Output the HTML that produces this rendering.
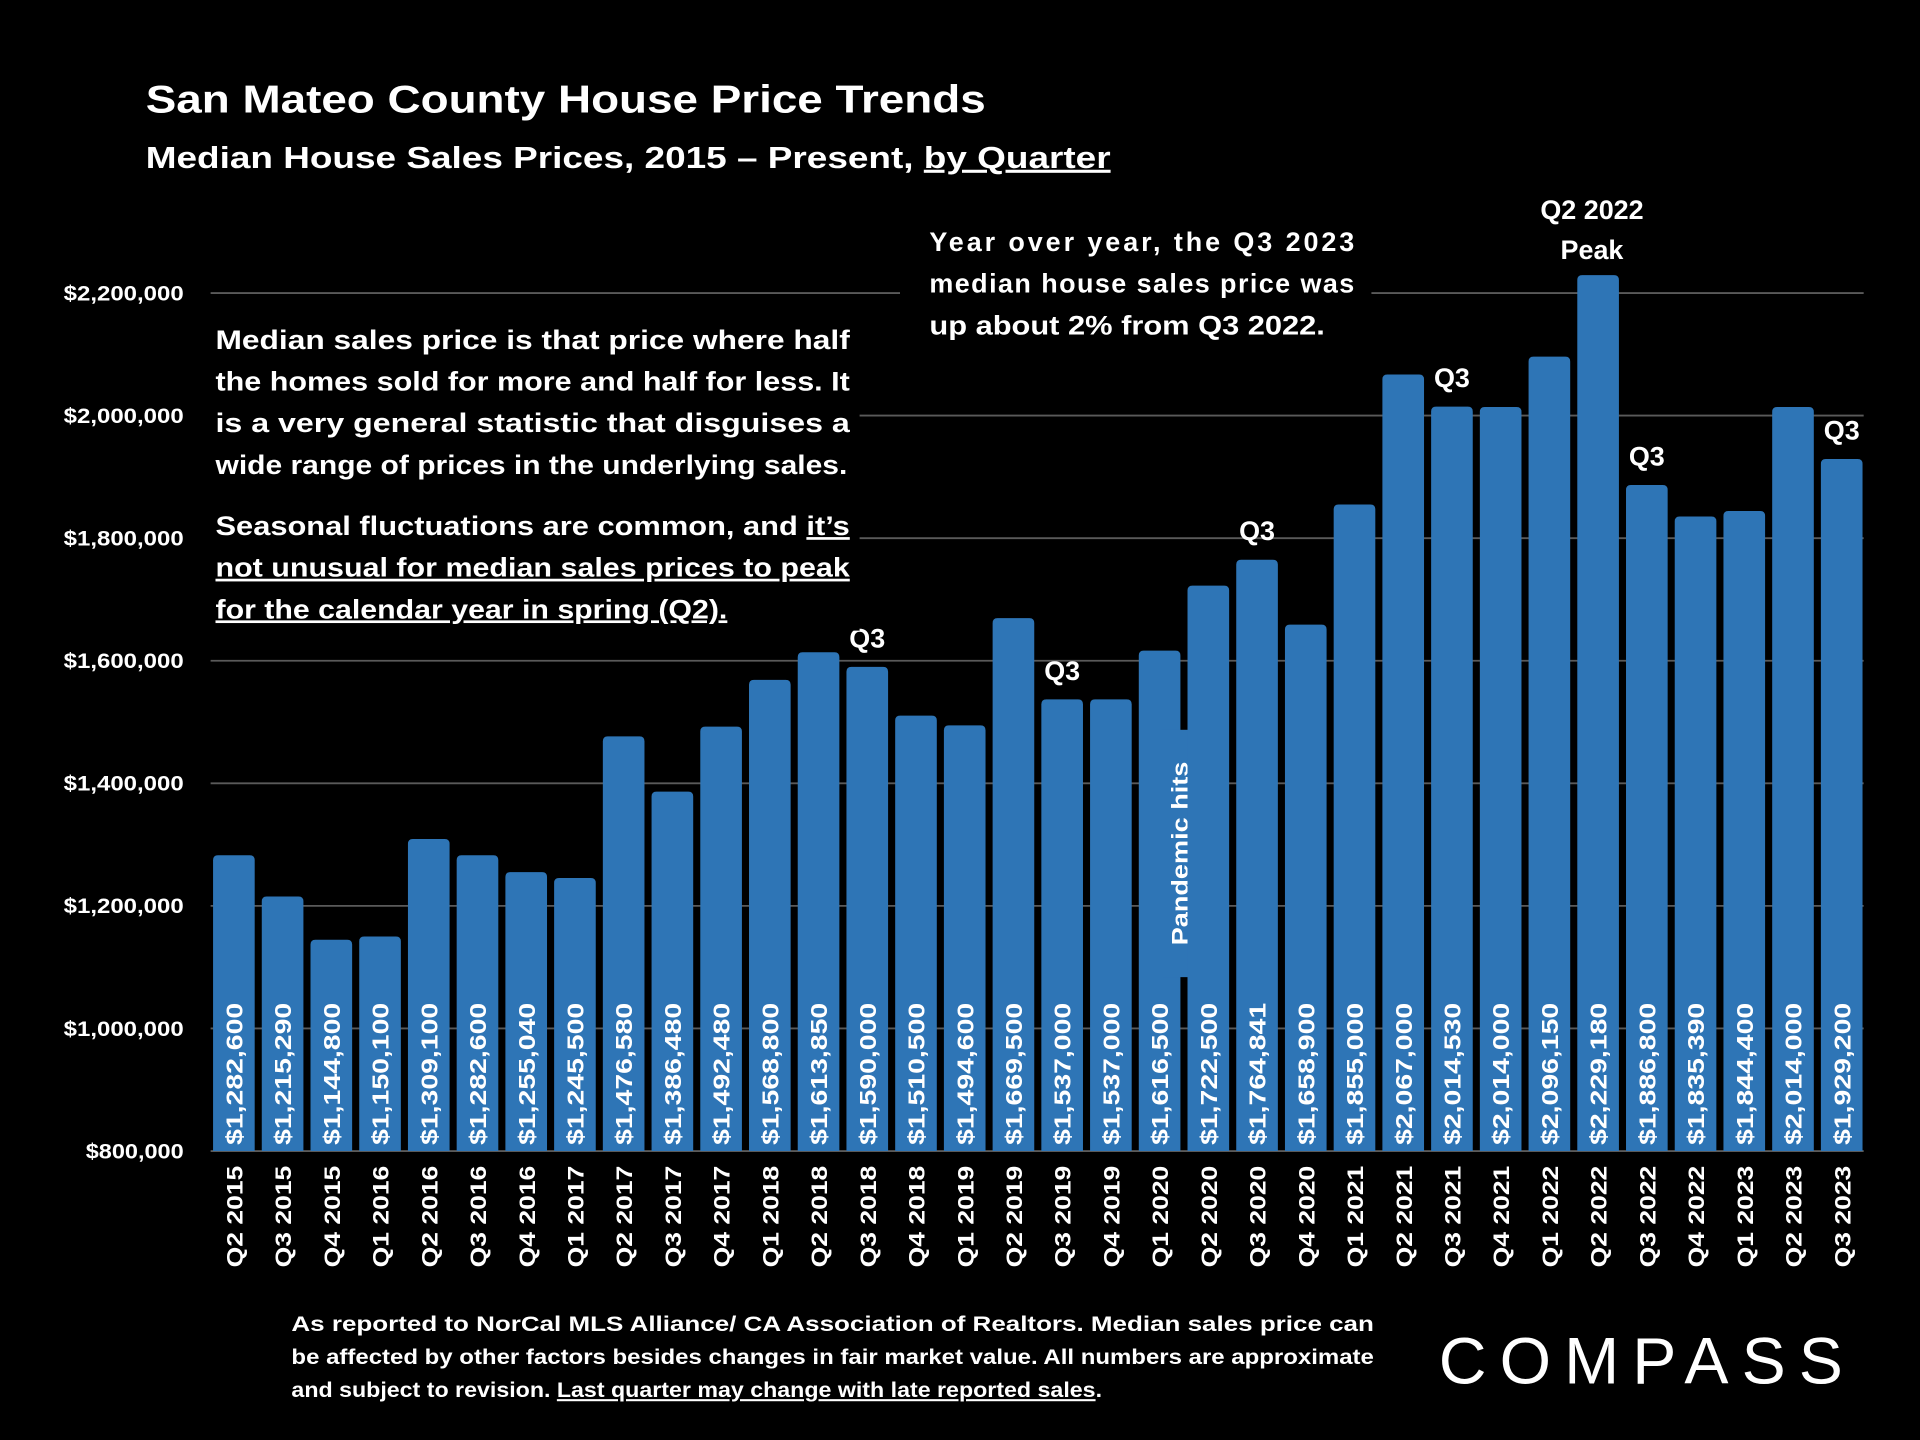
<!DOCTYPE html>
<html><head><meta charset="utf-8"><style>
html,body{margin:0;padding:0;background:#000;}
svg{display:block;font-family:"Liberation Sans",sans-serif;font-weight:bold;}
</style></head><body>
<svg id="chart" width="1920" height="1440" viewBox="0 0 1568 1176" xmlns="http://www.w3.org/2000/svg">
<rect width="1568" height="1176" fill="#000"/>
<g id="grid"></g>
<g id="bars"></g>
<text x="119" y="92" fill="#fff" font-size="32" textLength="686" lengthAdjust="spacingAndGlyphs">San Mateo County House Price Trends</text>
<text x="119" y="137" fill="#fff" font-size="25" textLength="788" lengthAdjust="spacingAndGlyphs">Median House Sales Prices, 2015 – Present, <tspan text-decoration="underline">by Quarter</tspan></text>

<g fill="#fff" font-size="22">
<rect x="168" y="255" width="534" height="260" fill="#000"/>
<text x="176" y="285" textLength="518" lengthAdjust="spacingAndGlyphs">Median sales price is that price where half</text>
<text x="176" y="319" textLength="518" lengthAdjust="spacingAndGlyphs">the homes sold for more and half for less. It</text>
<text x="176" y="353" textLength="518" lengthAdjust="spacingAndGlyphs">is a very general statistic that disguises a</text>
<text x="176" y="387" textLength="516" lengthAdjust="spacingAndGlyphs">wide range of prices in the underlying sales.</text>
<text x="176" y="437" textLength="518" lengthAdjust="spacingAndGlyphs">Seasonal fluctuations are common, and <tspan text-decoration="underline">it’s</tspan></text>
<text x="176" y="471" textLength="518" lengthAdjust="spacingAndGlyphs" text-decoration="underline">not unusual for median sales prices to peak</text>
<text x="176" y="505" textLength="418" lengthAdjust="spacingAndGlyphs" text-decoration="underline">for the calendar year in spring (Q2).</text>
</g>
<g fill="#fff" font-size="22">
<rect x="735" y="178" width="385" height="105" fill="#000"/>
<text x="759" y="205" textLength="347" lengthAdjust="spacing">Year over year, the Q3 2023</text>
<text x="759" y="239" textLength="347" lengthAdjust="spacing">median house sales price was</text>
<text x="759" y="273" textLength="323" lengthAdjust="spacingAndGlyphs">up about 2% from Q3 2022.</text>
</g>
<g fill="#fff" font-size="17">
<text x="238" y="1087" textLength="884" lengthAdjust="spacingAndGlyphs">As reported to NorCal MLS Alliance/ CA Association of Realtors. Median sales price can</text>
<text x="238" y="1114" textLength="884" lengthAdjust="spacingAndGlyphs">be affected by other factors besides changes in fair market value. All numbers are approximate</text>
<text x="238" y="1141" textLength="662" lengthAdjust="spacingAndGlyphs">and subject to revision. <tspan text-decoration="underline">Last quarter may change with late reported sales</tspan>.</text>
</g>
<text x="1175" y="1130" fill="#fff" font-size="54" font-weight="normal" textLength="330" lengthAdjust="spacing">COMPASS</text>
</svg>
<script>
const categories=["Q2 2015","Q3 2015","Q4 2015","Q1 2016","Q2 2016","Q3 2016","Q4 2016","Q1 2017","Q2 2017","Q3 2017","Q4 2017","Q1 2018","Q2 2018","Q3 2018","Q4 2018","Q1 2019","Q2 2019","Q3 2019","Q4 2019","Q1 2020","Q2 2020","Q3 2020","Q4 2020","Q1 2021","Q2 2021","Q3 2021","Q4 2021","Q1 2022","Q2 2022","Q3 2022","Q4 2022","Q1 2023","Q2 2023","Q3 2023"];
const values=[1282600,1215290,1144800,1150100,1309100,1282600,1255040,1245500,1476580,1386480,1492480,1568800,1613850,1590000,1510500,1494600,1669500,1537000,1537000,1616500,1722500,1764841,1658900,1855000,2067000,2014530,2014000,2096150,2229180,1886800,1835390,1844400,2014000,1929200];
const valueLabels=["$1,282,600","$1,215,290","$1,144,800","$1,150,100","$1,309,100","$1,282,600","$1,255,040","$1,245,500","$1,476,580","$1,386,480","$1,492,480","$1,568,800","$1,613,850","$1,590,000","$1,510,500","$1,494,600","$1,669,500","$1,537,000","$1,537,000","$1,616,500","$1,722,500","$1,764,841","$1,658,900","$1,855,000","$2,067,000","$2,014,530","$2,014,000","$2,096,150","$2,229,180","$1,886,800","$1,835,390","$1,844,400","$2,014,000","$1,929,200"];
const yTicks=[800000,1000000,1200000,1400000,1600000,1800000,2000000,2200000];
const yTickLabels=["$800,000","$1,000,000","$1,200,000","$1,400,000","$1,600,000","$1,800,000","$2,000,000","$2,200,000"];
const q3Marks=["Q3 2018","Q3 2019","Q3 2020","Q3 2021","Q3 2022","Q3 2023"];
const peakMark="Q2 2022";

const NS="http://www.w3.org/2000/svg";
const y=v=>940-(v-800000)/200000*100.1;
const x=i=>191+i*39.79;
const BW=34;
function mk(tag,attrs,parent,text){const e=document.createElementNS(NS,tag);for(const k in attrs)e.setAttribute(k,attrs[k]);if(text!==undefined)e.textContent=text;parent.appendChild(e);return e;}
const grid=document.getElementById('grid'),bars=document.getElementById('bars');
yTicks.forEach((t,i)=>{
  const l=mk('line',{x1:172,x2:1522,y1:y(t),y2:y(t),stroke:'#5a5a5a','stroke-width':1.5},grid);
  
  
  const w=yTickLabels[i].length===8?80:98;
  const tx=mk('text',{x:150,y:y(t)+6,'text-anchor':'end',fill:'#fff','font-size':17,textLength:w,lengthAdjust:'spacingAndGlyphs'},grid,yTickLabels[i]);
  
  
});
categories.forEach((c,i)=>{
  const cx=x(i),top=y(values[i]);
  const p=mk('path',{d:`M${cx-BW/2},940V${top+4}q0,-4 4,-4h${BW-8}q4,0 4,4V940Z`,fill:'#2e75b6'},bars);
  
  
  const v=mk('text',{transform:`translate(${cx+7},935) rotate(-90)`,fill:'#fff','font-size':19,textLength:116,lengthAdjust:'spacingAndGlyphs'},bars,valueLabels[i]);
  
  
  const xl=mk('text',{transform:`translate(${cx+7},952) rotate(-90)`,'text-anchor':'end',fill:'#fff','font-size':18,textLength:83,lengthAdjust:'spacingAndGlyphs'},bars,c);
  
  
  if(q3Marks.includes(c)){
    const q=mk('text',{x:cx,y:top-16,'text-anchor':'middle',fill:'#fff','font-size':22},bars,'Q3');
    
    
  }
  if(c===peakMark){
    const a=mk('text',{x:cx-5,y:top-46,'text-anchor':'middle',fill:'#fff','font-size':22},bars,'Q2 2022');
    
    
    const b=mk('text',{x:cx-5,y:top-13,'text-anchor':'middle',fill:'#fff','font-size':22},bars,'Peak');
    
    
  }
  if(c==="Q1 2020"){
    const r=mk('rect',{x:cx+2,y:596,width:30,height:202,fill:'#2e75b6'},bars);
    
    
    const t=mk('text',{transform:`translate(${cx+23},772) rotate(-90)`,fill:'#fff','font-size':19,textLength:150,lengthAdjust:'spacingAndGlyphs'},bars,'Pandemic hits');
    
    
  }
});
</script>
</body></html>
